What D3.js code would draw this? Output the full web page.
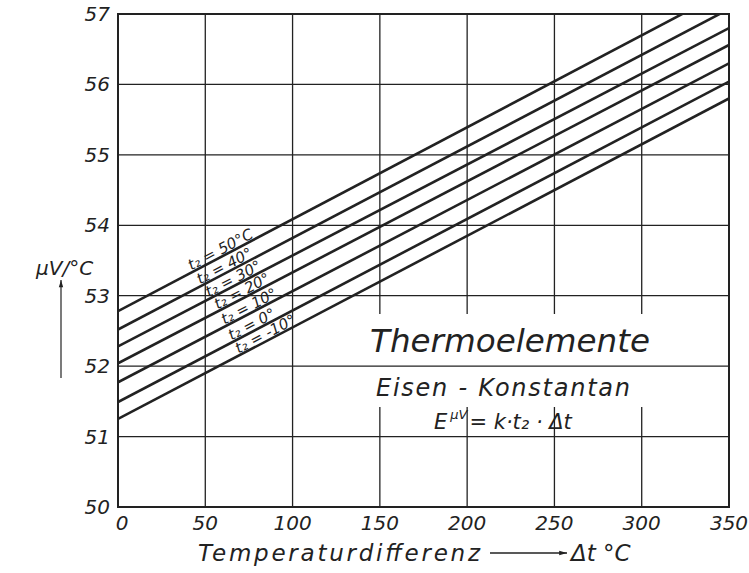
<!DOCTYPE html>
<html>
<head>
<meta charset="utf-8">
<script src="https://cdn.jsdelivr.net/npm/d3@7/dist/d3.min.js"></script>
<style>
  html, body { margin: 0; padding: 0; background: #fff; }
  svg { display: block; }
  text { font-family: "DejaVu Sans", sans-serif; font-style: italic; fill: #222; }
</style>
</head>
<body>
<svg id="chart" width="749" height="573"></svg>
<script>
// ---- data ----
const xTicks = [0, 50, 100, 150, 200, 250, 300, 350];
const yTicks = [50, 51, 52, 53, 54, 55, 56, 57];
const t2Values = [50, 40, 30, 20, 10, 0, -10];
const t2Labels = ["t₂ = 50°C", "t₂ = 40°", "t₂ = 30°", "t₂ = 20°", "t₂ = 10°", "t₂ = 0°", "t₂ = -10°"];
const valueAt0 = [52.78, 52.52, 52.28, 52.04, 51.77, 51.49, 51.25];
const valueAt350 = [57.35, 57.07, 56.80, 56.56, 56.30, 56.04, 55.80];
const labelXPos = [42, 47, 52, 57, 61, 65, 69];

(function () {
const svg = d3.select("#chart");
const pL = 118, pR = 729, pT = 14, pB = 507;
const x = d3.scaleLinear().domain([0, 350]).range([pL, pR]);
const y = d3.scaleLinear().domain([50, 57]).range([pB, pT]);
const ink = "#222";

svg.append("clipPath").attr("id", "plotclip")
  .append("rect").attr("x", pL).attr("y", pT).attr("width", pR - pL).attr("height", pB - pT);

// grid
const grid = svg.append("g");
grid.selectAll("line.v").data(xTicks.slice(1, -1)).join("line")
  .attr("x1", d => x(d)).attr("x2", d => x(d)).attr("y1", pT).attr("y2", pB)
  .attr("stroke", ink).attr("stroke-width", 1.3);
grid.selectAll("line.h").data(yTicks.slice(1, -1)).join("line")
  .attr("x1", pL).attr("x2", pR).attr("y1", d => y(d)).attr("y2", d => y(d))
  .attr("stroke", ink).attr("stroke-width", 1.3);

// title box (white) interrupting grid
svg.append("rect").attr("x", 368).attr("y", 314).attr("width", 300).attr("height", 93).attr("fill", "#fff");
svg.append("line").attr("x1", 368).attr("x2", 668).attr("y1", y(52)).attr("y2", y(52))
  .attr("stroke", ink).attr("stroke-width", 1.3);

// lines
const lineGen = d3.line().x(d => x(d[0])).y(d => y(d[1]));
const lg = svg.append("g").attr("clip-path", "url(#plotclip)");
t2Values.forEach((t, i) => {
  lg.append("path").datum([[0, valueAt0[i]], [350, valueAt350[i]]])
    .attr("d", lineGen).attr("fill", "none").attr("stroke", ink).attr("stroke-width", 2.6);
});

// labels along lines
t2Values.forEach((t, i) => {
  const slope = (valueAt350[i] - valueAt0[i]) / 350;
  const xv = labelXPos[i];
  const yv = valueAt0[i] + slope * xv;
  const ang = Math.atan2(y(valueAt0[i] + slope * 350) - y(valueAt0[i]), x(350) - x(0)) * 180 / Math.PI;
  svg.append("text")
    .attr("transform", `translate(${x(xv)},${y(yv) - 2}) rotate(${ang})`)
    .attr("font-size", 15).attr("font-style", "normal")
    .text(t2Labels[i]);
});

// frame
svg.append("rect").attr("x", pL).attr("y", pT).attr("width", pR - pL).attr("height", pB - pT)
  .attr("fill", "none").attr("stroke", ink).attr("stroke-width", 2);

// tick labels
svg.selectAll("text.yt").data(yTicks).join("text")
  .attr("x", pL - 8).attr("y", d => y(d) + 7).attr("text-anchor", "end")
  .attr("font-size", 20).text(d => d);
svg.selectAll("text.xt").data(xTicks).join("text")
  .attr("x", d => x(d) + (d === 0 ? 4 : 0)).attr("y", 530).attr("text-anchor", "middle")
  .attr("font-size", 20).text(d => d);

// axis titles
svg.append("defs").append("marker").attr("id", "arr").attr("viewBox", "0 0 10 10")
  .attr("refX", 10).attr("refY", 5).attr("markerWidth", 8).attr("markerHeight", 6).attr("orient", "auto")
  .append("path").attr("d", "M0,2 L10,5 L0,8 Z").attr("fill", ink);
svg.append("text").attr("x", 198).attr("y", 561).attr("font-size", 23)
  .attr("textLength", 282).attr("lengthAdjust", "spacing").text("Temperaturdifferenz");
svg.append("line").attr("x1", 490).attr("x2", 567).attr("y1", 553).attr("y2", 553)
  .attr("stroke", ink).attr("stroke-width", 1.3).attr("marker-end", "url(#arr)");
svg.append("text").attr("x", 571).attr("y", 561).attr("font-size", 23).text("Δt °C");

svg.append("text").attr("x", 36).attr("y", 275).attr("font-size", 20).text("μV/°C");
svg.append("line").attr("x1", 61).attr("x2", 61).attr("y1", 378).attr("y2", 280)
  .attr("stroke", ink).attr("stroke-width", 1.2).attr("marker-end", "url(#arr)");

// title texts
svg.append("text").attr("x", 370).attr("y", 352)
  .attr("font-size", 32).attr("textLength", 280).attr("lengthAdjust", "spacingAndGlyphs").text("Thermoelemente");
svg.append("text").attr("x", 376).attr("y", 396)
  .attr("font-size", 24).attr("textLength", 254).attr("lengthAdjust", "spacing").text("Eisen - Konstantan");
const f = svg.append("text").attr("x", 434).attr("y", 429).attr("font-size", 21);
f.append("tspan").text("E");
f.append("tspan").attr("font-size", 13).attr("dx", 3).attr("dy", -10).text("μV");
f.append("tspan").attr("dx", 2).attr("dy", 10).text("= k·t₂ · Δt");
})();
</script>
</body>
</html>
